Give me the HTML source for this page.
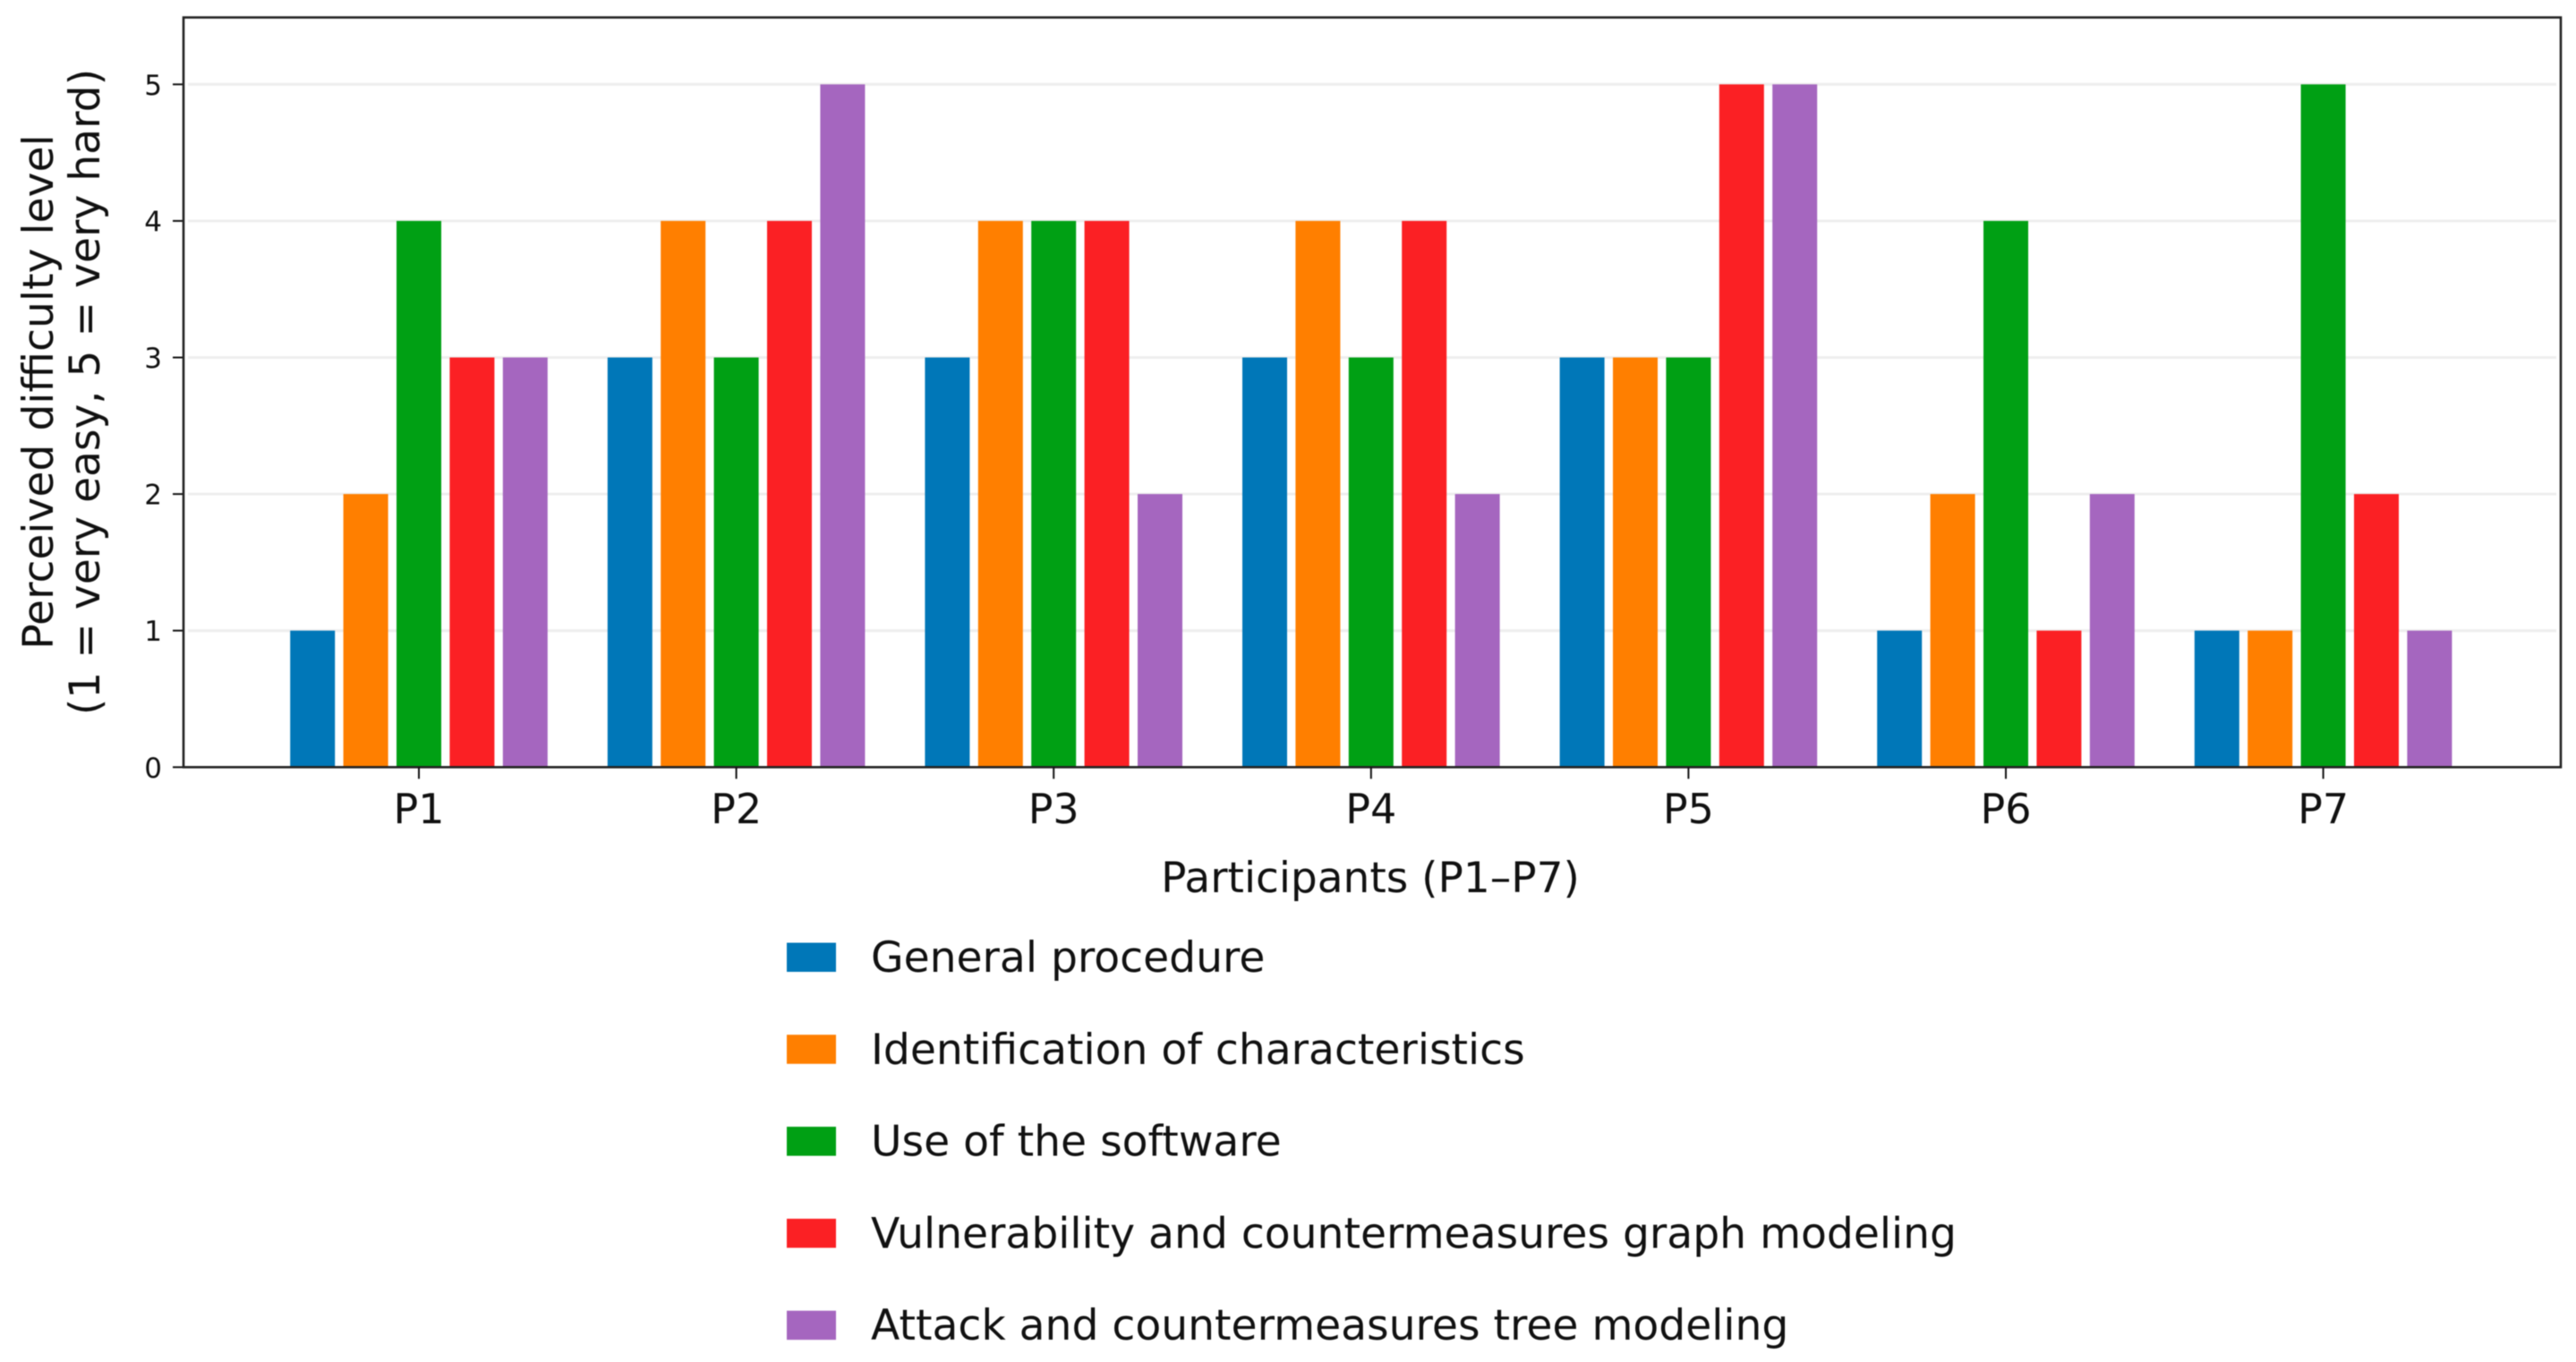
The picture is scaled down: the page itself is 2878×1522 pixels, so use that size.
<!DOCTYPE html>
<html lang="en">
<head>
<meta charset="utf-8">
<title>Perceived difficulty level by participant</title>
<style>
  html, body { margin: 0; padding: 0; background: #fff; width: 2878px; height: 1522px; overflow: hidden; }
  svg { display: block; filter: blur(0.6px); }
  text { font-family: "DejaVu Sans", "Liberation Sans", sans-serif; fill: #111; }
</style>
</head>
<body>
<svg id="chart" xmlns="http://www.w3.org/2000/svg" width="2878" height="1522" viewBox="0 0 2878 1522">
  <rect x="0" y="0" width="2878" height="1522" fill="#fff"/>
  <g id="grid"></g>
  <g id="bars"></g>
  <g id="axes"></g>
  <g id="legend"></g>
  <text x="1531" y="997" font-size="47" text-anchor="middle">Participants (P1–P7)</text>
  <text transform="translate(59 438) rotate(-90)" font-size="47.2" text-anchor="middle">Perceived difficulty level</text>
  <text transform="translate(111 438) rotate(-90)" font-size="47.2" text-anchor="middle">(1 = very easy, 5 = very hard)</text>
</svg>
<script>
const categories = ["P1", "P2", "P3", "P4", "P5", "P6", "P7"];
const seriesNames = [
  "General procedure",
  "Identification of characteristics",
  "Use of the software",
  "Vulnerability and countermeasures graph modeling",
  "Attack and countermeasures tree modeling"
];
const generalProcedure = [1, 3, 3, 3, 3, 1, 1];
const identificationOfCharacteristics = [2, 4, 4, 4, 3, 2, 1];
const useOfTheSoftware = [4, 3, 4, 3, 3, 4, 5];
const vulnerabilityGraphModeling = [3, 4, 4, 4, 5, 1, 2];
const attackTreeModeling = [3, 5, 2, 2, 5, 2, 1];
const yTickLabels = [0, 1, 2, 3, 4, 5];
const seriesColors = ["#0077b8", "#ff7f00", "#00a014", "#fb2024", "#a566bf"];

const allSeries = [generalProcedure, identificationOfCharacteristics, useOfTheSoftware, vulnerabilityGraphModeling, attackTreeModeling];
const SVG_NS = "http://www.w3.org/2000/svg";

const plot = { left: 205, right: 2861, top: 19.5, bottom: 857.3 };
const yMax = 5.49;
const groupPitch = 354.6;
const firstGroupCenter = 468;
const barPitch = 59.4;
const barWidth = 50;

function yScale(v) {
  return plot.bottom - (v / yMax) * (plot.bottom - plot.top);
}
function xScale(categoryIndex) {
  return firstGroupCenter + categoryIndex * groupPitch;
}
function barX(categoryIndex, seriesIndex) {
  return xScale(categoryIndex) + (seriesIndex - (allSeries.length - 1) / 2) * barPitch - barWidth / 2;
}
function make(tag, attrs, parent) {
  const el = document.createElementNS(SVG_NS, tag);
  for (const k in attrs) el.setAttribute(k, attrs[k]);
  parent.appendChild(el);
  return el;
}

const gridLayer = document.getElementById("grid");
const barLayer = document.getElementById("bars");
const axisLayer = document.getElementById("axes");
const legendLayer = document.getElementById("legend");

yTickLabels.forEach(function (t) {
  const y = yScale(t);
  if (t > 0) {
    const line = make("line", { x1: plot.left + 5, x2: plot.right - 5, y1: y, y2: y, stroke: "#eeeeee", "stroke-width": 3 }, gridLayer);
    
    
  }
  const tick = make("line", { x1: plot.left - 12, x2: plot.left, y1: y, y2: y, stroke: "#111", "stroke-width": 2 }, axisLayer);
  
  
  const label = make("text", { x: 181, y: y + 11.5, "font-size": 31, "text-anchor": "end" }, axisLayer);
  label.textContent = t;
  
  
});

allSeries.forEach(function (values, s) {
  values.forEach(function (v, c) {
    const top = yScale(v);
    const bar = make("rect", { x: barX(c, s), y: top, width: barWidth, height: plot.bottom - top, fill: seriesColors[s] }, barLayer);
    
    
  });
});

const frame = make("rect", { x: plot.left, y: plot.top, width: plot.right - plot.left, height: plot.bottom - plot.top, fill: "none", stroke: "#222", "stroke-width": 2.6 }, axisLayer);



categories.forEach(function (name, c) {
  const x = xScale(c);
  const tick = make("line", { x1: x, x2: x, y1: plot.bottom, y2: plot.bottom + 13, stroke: "#111", "stroke-width": 2 }, axisLayer);
  
  
  const label = make("text", { x: x, y: 920, "font-size": 46, "text-anchor": "middle" }, axisLayer);
  label.textContent = name;
  
  
});

const legendLeft = 879;
const legendFirstBottom = 1086;
const legendPitch = 102.8;
seriesNames.forEach(function (name, s) {
  const bottom = legendFirstBottom + s * legendPitch;
  const entry = make("g", {}, legendLayer);
  
  
  const swatch = make("rect", { x: legendLeft, y: bottom - 32.5, width: 55, height: 32.5, fill: seriesColors[s] }, entry);
  
  
  const label = make("text", { x: 973, y: bottom, "font-size": 47.2 }, entry);
  label.textContent = name;
  
  
});
</script>
</body>
</html>
